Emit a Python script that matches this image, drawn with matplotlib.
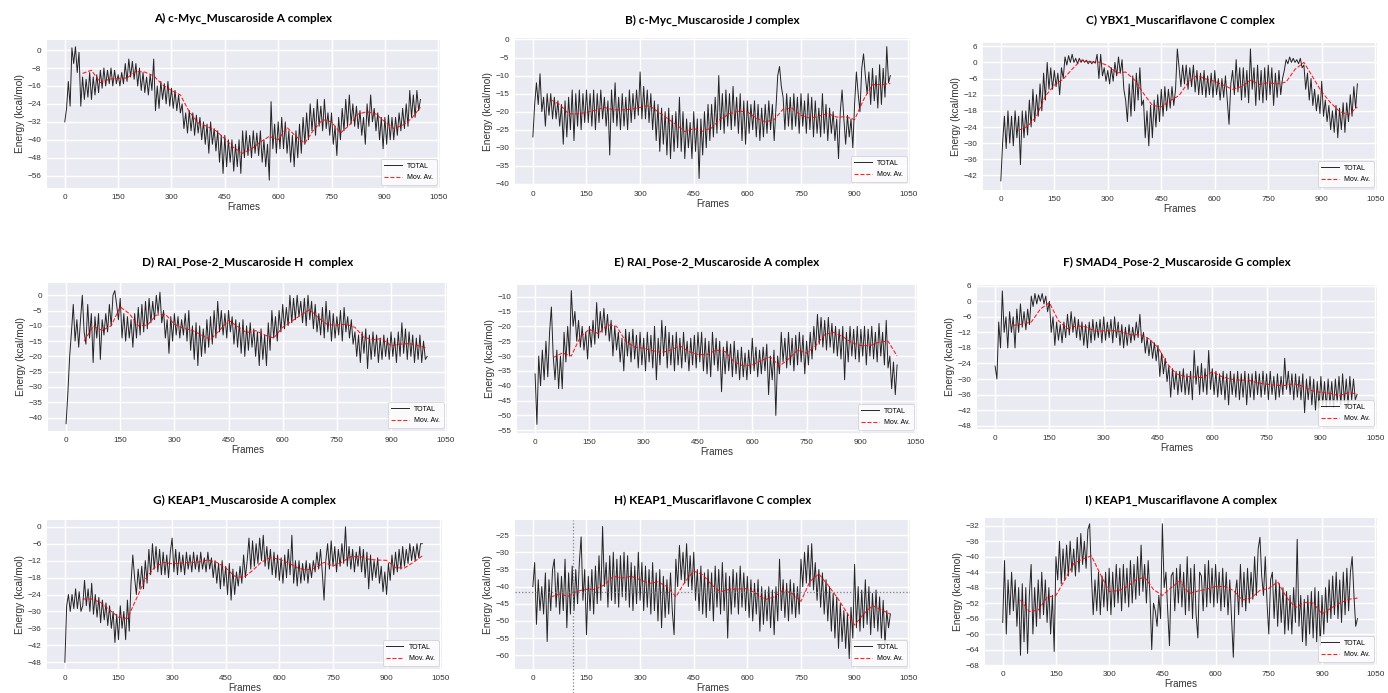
import numpy as np
import matplotlib.pyplot as plt

# TOTAL energies read every 5 frames, moving average every 25 frames from frame 50
frames = np.arange(0, 1001, 5)
ma_frames = np.arange(50, 1001, 25)

total_a = [-32, -26, -14, -25, 1, -6, 1.5, -10, -1, -25, -12, -22, -13, -21, -10, -22, -12, -20, -11, -19,
           -9, -17, -8, -16, -9, -15, -8, -16, -9, -15, -11, -16, -10, -15, -6, -14, -4, -12, -5, -13,
           -6, -16, -8, -18, -10, -19, -12, -20, -11, -18, -4, -27, -16, -26, -14, -22, -15, -24, -14, -25,
           -17, -26, -18, -27, -20, -28, -24, -35, -28, -37, -27, -36, -28, -38, -29, -37, -30, -40, -32, -42,
           -33, -46, -32, -42, -35, -45, -36, -50, -38, -55, -38, -52, -40, -50, -40, -54, -42, -52, -40, -55,
           -36, -48, -36, -47, -38, -48, -36, -46, -37, -47, -36, -50, -40, -52, -42, -58, -23, -44, -33, -46,
           -32, -44, -30, -44, -32, -46, -36, -50, -38, -52, -36, -48, -33, -46, -30, -42, -28, -40, -24, -36,
           -26, -38, -22, -34, -25, -36, -22, -35, -28, -38, -28, -42, -34, -47, -30, -40, -26, -36, -22, -34,
           -20, -33, -24, -34, -25, -35, -27, -38, -30, -42, -24, -34, -20, -32, -26, -36, -28, -40, -30, -44,
           -30, -42, -29, -40, -30, -40, -30, -38, -28, -36, -26, -35, -24, -34, -18, -30, -20, -30, -18, -27,
           -22]
mov_a = [-10.4, -9, -14.5, -13, -12.6, -12.4, -9.5, -9.8, -11.5, -15.5, -18, -20, -27.5, -32.5, -34, -36,
         -39.5, -43.5, -46, -44, -41, -38.5, -40, -34.5, -38.5, -41.5, -35.5, -31, -32, -37, -33.5, -28.5,
         -27.5, -28.5, -32, -35, -33.5, -30.5, -25.5]

total_b = [-27, -18, -12, -18, -9.5, -20, -16, -24, -15, -21, -15, -22, -16, -22, -17, -24, -18, -29, -17, -27,
           -16, -25, -14, -28, -15, -24, -14, -25, -15, -23, -14, -23, -15, -24, -14, -25, -15, -23, -14, -22,
           -16, -24, -17, -32, -14, -23, -12, -24, -16, -25, -15, -24, -16, -25, -14, -23, -15, -22, -14, -21,
           -9, -22, -13, -22, -14, -23, -15, -25, -17, -28, -18, -31, -19, -29, -20, -32, -19, -33, -21, -31,
           -20, -30, -16, -31, -20, -33, -22, -30, -23, -33, -20, -31, -22, -38.5, -22, -32, -20, -30, -18, -28,
           -18, -27, -16, -26, -10, -25, -15, -26, -14, -24, -15, -25, -13, -24, -16, -26, -15, -28, -17, -29,
           -17, -26, -18, -25, -17, -27, -18, -28, -19, -27, -18, -26, -17, -25, -18, -28, -19, -10, -7.5, -13,
           -16, -25, -15, -24, -16, -25, -15, -24, -16, -26, -15, -24, -17, -26, -15, -25, -16, -27, -17, -26,
           -19, -27, -15, -26, -18, -28, -19, -26, -20, -28, -22, -33, -20, -14, -22, -29, -21, -27, -22, -30,
           -18, -9, -15, -20, -8, -4, -10, -15, -9, -18, -8, -17, -10, -19, -7, -18, -8, -16, -2, -12,
           -10]
mov_b = [-16.7, -18, -20.6, -20.6, -20.2, -19.6, -18.8, -19.5, -19.5, -19.3, -18.8, -18.3, -20, -21.8, -23.5,
         -25.5, -24.7, -25.4, -24.5, -22, -20.6, -19.9, -20, -21.8, -22.8, -22.2, -19.3, -19, -21, -21.8, -21.3,
         -20.5, -21.5, -21.4, -22.2, -16.7, -12.5, -12.5, -12.2]

total_c = [-44, -30, -20, -32, -18, -30, -20, -31, -18, -28, -20, -38, -18, -28, -18, -27, -14, -24, -10, -22,
           -12, -20, -8, -18, -4, -14, 0, -10, -2, -10, -3, -9, -4, -12, -2, -6, 2, -1, 2.5, 0,
           3, 0, 1.5, -0.5, 1.5, 0, 1, 0, 0.8, -0.5, 0.5, -0.5, 0.3, -0.3, 3, -6, 3, -5, -2, -7,
           -3, -8, -2, -7, 0, -5, 2, -4, 1, -10, -14, -22, -8, -20, -5, -18, -4, -14, -2, -16,
           -14, -28, -18, -31, -16, -28, -14, -24, -12, -22, -10, -20, -9, -18, -10, -17, -9, -16, -10, 5,
           -2, -9, -1, -8, -1, -10, -2, -9, -1, -11, -3, -12, -4, -12, -3, -13, -5, -12, -4, -13,
           -3, -12, -6, -14, -6, -13, -5, -14, -23, -8, -3, -12, 1, -11, -2, -14, -2, -13, -3, -15,
           5, -10, -2, -16, -1, -14, -3, -15, -2, -14, -1, -12, -2, -16, -4, -13, -3, -12, -6, -3,
           1, -0.5, 2, 0, 1.5, 0, 1, -0.5, 1.5, -2, -1, -10, -4, -14, -6, -16, -10, -18, -12, -19,
           -7, -20, -14, -22, -16, -25, -18, -26, -16, -28, -17, -25, -15, -26, -15, -22, -12, -20, -9, -17,
           -8]
mov_c = [-25.2, -23.8, -20, -12.5, -8.5, -6.2, -2.5, 0.8, 0.2, 0.1, -1.2, -3.9, -3.6, -6.5, -11.5, -16,
         -16.5, -14.2, -12.3, -7.5, -4.8, -6.2, -7, -8.5, -10, -9, -6.6, -8.2, -7.5, -8, -7.3, -2.6, 0,
         -5.5, -11, -15, -18.2, -19.5, -16.5]

total_d = [-42, -32, -20, -12, -3, -15, -8, -17, -8, 0, -12, -16, -3, -14, -6, -22, -7, -14, -6, -21,
           -8, -13, -6, -12, -3, -10, 0, 1.5, -3, -8, -1, -14, -6, -15, -7, -14, -8, -17, -6, -14,
           -4, -13, -3, -12, -2, -11, -1, -9, -2, -8, 0, -6, 1, -9, -5, -14, -8, -19, -7, -15,
           -6, -13, -7, -14, -8, -13, -6, -15, -5, -18, -10, -21, -9, -23, -10, -20, -11, -19, -8, -17,
           -7, -16, -5, -14, -2, -12, -5, -13, -6, -14, -5, -12, -7, -16, -8, -17, -9, -19, -8, -20,
           -10, -18, -9, -17, -11, -20, -12, -23, -11, -21, -13, -23, -9, -18, -5, -14, -7, -15, -5, -12,
           -3, -11, -4, -10, 0, -9, -1, -8, 0, -7, -2, -9, -1, -10, 0, -8, -2, -11, -3, -12,
           -6, -13, -4, -14, -2, -12, -5, -15, -6, -14, -7, -13, -5, -15, -4, -12, -7, -14, -8, -16,
           -12, -20, -13, -22, -12, -19, -11, -24, -13, -21, -12, -20, -13, -22, -14, -21, -13, -20, -14, -21,
           -12, -20, -14, -22, -12, -20, -9, -19, -11, -21, -12, -20, -13, -22, -14, -21, -13, -22, -15, -21,
           -20]
mov_d = [-15, -10.2, -11.5, -10, -3.8, -6, -10, -9.8, -6.5, -6.2, -9.5, -10.8, -11.5, -13, -14.5, -11.5,
         -8.2, -10.2, -12.2, -11.6, -13, -14, -10.5, -8.5, -6.5, -4.7, -7.5, -9.7, -9.7, -9.5, -10.5, -13.8,
         -14.5, -14.2, -16.5, -16, -15.8, -16.5, -17.3]

total_e = [-36, -53, -30, -40, -28, -38, -25, -37, -22, -13.5, -30, -38, -28, -41, -30, -41, -22, -32, -20, -30,
           -8, -20, -15, -25, -18, -27, -20, -28, -22, -31, -20, -27, -18, -26, -12, -24, -15, -22, -14, -23,
           -16, -25, -18, -30, -20, -28, -22, -32, -24, -35, -21, -30, -22, -32, -21, -31, -23, -34, -22, -33,
           -24, -35, -22, -32, -23, -34, -20, -38, -24, -33, -18, -30, -20, -34, -22, -33, -23, -35, -22, -33,
           -24, -34, -22, -32, -25, -35, -24, -33, -23, -34, -22, -32, -22, -35, -24, -36, -25, -37, -22, -33,
           -24, -35, -25, -42, -27, -36, -25, -35, -26, -37, -25, -36, -28, -38, -27, -37, -29, -38, -28, -36,
           -24, -35, -27, -37, -28, -36, -27, -35, -26, -43, -30, -38, -28, -50, -30, -36, -22, -32, -24, -34,
           -22, -33, -24, -35, -23, -33, -22, -32, -23, -36, -25, -33, -22, -31, -20, -28, -16, -26, -17, -27,
           -18, -28, -17, -27, -19, -29, -20, -30, -21, -31, -20, -38, -22, -32, -20, -30, -21, -31, -20, -32,
           -21, -30, -20, -33, -21, -30, -20, -31, -22, -32, -19, -30, -22, -33, -18, -34, -30, -41, -32, -43,
           -33]
mov_e = [-30.5, -29, -30, -23.5, -21, -22.5, -19.5, -20, -25, -27, -27.4, -28.2, -28.8, -28, -26.5, -28.5,
         -29.5, -29.5, -28, -28.5, -32, -33.3, -33, -31.5, -30.3, -33.4, -31, -28, -29, -26.5, -22.8, -22,
         -23.5, -25.5, -26.5, -26.5, -25.3, -25, -30]

total_f = [-25, -30, -8, -18, 4, -12, -6, -18, -4, -12, -6, -18, -3, -12, -1, -10, -4, -11, -3, -9,
           2, -2, 3, -1, 2.5, 0, 3, -1, 2, -4, 0, -12, -6, -17, -8, -15, -9, -16, -8, -14,
           -5, -13, -4, -12, -6, -14, -7, -15, -8, -17, -9, -18, -8, -16, -7, -15, -8, -14, -7, -16,
           -6, -15, -8, -14, -7, -16, -6, -14, -8, -17, -9, -18, -10, -17, -9, -16, -10, -15, -8, -14,
           -5, -16, -12, -20, -14, -21, -15, -22, -16, -23, -17, -29, -20, -28, -22, -31, -25, -37, -26, -34,
           -27, -36, -27, -35, -26, -36, -28, -36, -27, -38, -19, -32, -25, -36, -24, -35, -26, -36, -19, -34,
           -26, -36, -27, -37, -28, -36, -27, -38, -28, -40, -27, -36, -28, -37, -27, -38, -28, -37, -27, -40,
           -28, -37, -28, -38, -27, -36, -28, -37, -27, -36, -28, -38, -27, -36, -29, -38, -28, -37, -29, -36,
           -22, -34, -27, -36, -28, -38, -28, -37, -29, -38, -28, -43, -30, -38, -29, -40, -30, -42, -31, -41,
           -29, -40, -31, -41, -30, -40, -31, -41, -30, -39, -29, -40, -28, -39, -30, -40, -29, -38, -30, -38,
           -36]
mov_f = [-9.3, -8.8, -8, -3, -0.5, -7.5, -10.6, -9.5, -9.8, -11.5, -11.4, -11.3, -11.8, -13, -12.8, -14.5,
         -17.8, -24, -28, -29, -29.2, -29.5, -27.2, -29, -30.1, -30.4, -30.4, -31.5, -32, -32.4, -32.5, -31.8,
         -32.8, -34.5, -35.2, -35.5, -36.5, -35.3, -35.7]

total_g = [-48, -28, -24, -30, -24, -29, -22, -29, -23, -30, -28, -19, -28, -22, -30, -20, -31, -24, -32, -25,
           -34, -26, -33, -27, -35, -28, -36, -30, -41, -31, -40, -28, -36, -30, -40, -26, -37, -20, -10, -18,
           -24, -15, -22, -14, -22, -12, -20, -8, -17, -6, -15, -7, -16, -8, -17, -9, -17, -10, -18, -9,
           -4, -16, -8, -17, -9, -16, -10, -17, -9, -15, -10, -16, -9, -15, -10, -16, -9, -15, -11, -16,
           -9, -15, -11, -18, -12, -20, -13, -22, -12, -21, -14, -24, -13, -26, -15, -24, -16, -21, -14, -20,
           -10, -18, -12, -4, -15, -5, -14, -6, -13, -4, -12, -3, -14, -7, -15, -8, -17, -9, -18, -10,
           -19, -11, -20, -10, -18, -8, -17, -3, -20, -12, -21, -12, -20, -13, -19, -12, -20, -13, -18, -12,
           -16, -9, -15, -8, -16, -26, -12, -6, -15, -5, -14, -7, -16, -8, -14, -6, -13, 0, -14, -7,
           -15, -8, -16, -9, -14, -7, -16, -8, -18, -9, -22, -10, -19, -12, -18, -11, -20, -14, -23, -16,
           -24, -13, -19, -10, -17, -9, -16, -8, -15, -7, -14, -8, -13, -6, -12, -7, -12, -6, -11, -6,
           -6]
mov_g = [-25.6, -25.6, -26.8, -29.5, -32, -32.5, -25.5, -18.5, -14.5, -12.6, -13.1, -12.9, -12.6, -12.5,
         -11.8, -12.6, -14.6, -17.5, -18, -15.5, -12.5, -10.9, -11.5, -12.8, -14.5, -15.3, -14.7, -12.6,
         -13.9, -12.5, -10.6, -10.5, -11.5, -11.8, -11.9, -14.5, -14.6, -12.6, -10.3]

total_h = [-40, -33, -51, -38, -47, -40, -48, -36, -56, -38, -47, -35, -32, -46, -36, -48, -37, -47, -32, -52,
           -36, -48, -34, -47, -35, -45, -33, -25.5, -44, -35, -54, -37, -47, -35, -48, -34, -45, -31, -44, -22.5,
           -40, -33, -46, -31, -44, -30, -45, -32, -46, -31, -43, -30, -44, -31, -46, -33, -47, -34, -45, -30,
           -44, -33, -47, -34, -46, -35, -48, -33, -47, -36, -50, -35, -52, -37, -49, -38, -48, -36, -47, -54,
           -32, -40, -28, -38, -30, -39, -27.5, -40, -31, -41, -30, -44, -35, -47, -34, -48, -36, -49, -35, -47,
           -36, -50, -34, -46, -35, -48, -33, -47, -36, -55, -37, -48, -35, -46, -36, -48, -34, -46, -36, -47,
           -37, -49, -38, -50, -39, -48, -38, -53, -40, -51, -41, -50, -40, -52, -41, -54, -40, -50, -32, -47,
           -38, -49, -39, -50, -38, -48, -39, -49, -40, -48, -32, -40, -30, -39, -28, -40, -27.5, -41, -33, -44,
           -35, -46, -36, -48, -38, -50, -40, -53, -42, -55, -43, -58, -45, -56, -47, -58, -48, -61, -46, -55,
           -33.5, -52, -40, -53, -41, -52, -38, -51, -40, -54, -42, -52, -41, -53, -43, -55, -44, -57, -47, -52,
           -48]
mov_h = [-43, -42.2, -42.8, -41.3, -40.8, -40.8, -39.5, -37, -37.5, -37, -38, -39.1, -38.6, -40, -43, -38.7,
         -35.5, -36.5, -39.5, -41.5, -40.8, -40.7, -40.6, -42, -43.8, -43, -41, -42, -44.3, -38.5, -36.3,
         -39.5, -43, -47, -51.2, -48, -45.5, -46.8, -48]

total_i = [-57, -41, -60, -46, -55, -44, -54, -46, -58, -48, -65.5, -47, -62, -48, -65, -50, -42, -60, -48, -58,
           -46, -56, -44, -55, -46, -57, -48, -60, -50, -64.5, -40, -46, -36, -47, -38, -46, -37, -45, -36, -44,
           -38, -45, -35, -44, -34, -42, -36, -43, -33, -31.5, -45, -55, -46, -54, -44, -55, -45, -53, -44, -54,
           -43, -55, -44, -53, -42, -52, -43, -54, -42, -52, -43, -53, -41, -52, -42, -51, -40, -50, -37, -49,
           -42, -52, -41, -50, -64, -52, -54, -58, -50, -56, -31.5, -48, -44, -54, -63, -45, -44, -54, -43, -52,
           -42, -53, -44, -55, -40, -54, -43, -56, -42, -55, -61, -44, -45, -54, -42, -53, -41, -52, -43, -53,
           -42, -52, -44, -54, -43, -53, -44, -55, -46, -56, -66, -50, -46, -55, -42, -53, -44, -54, -43, -52,
           -44, -51, -40, -50, -38, -35, -45, -50, -40, -52, -60, -46, -44, -56, -46, -58, -47, -57, -48, -60,
           -49, -59, -50, -60, -48, -57, -35.5, -58, -50, -62, -51, -63, -50, -60, -49, -61, -48, -62, -49, -63,
           -50, -60, -48, -57, -46, -56, -45, -55, -44, -56, -46, -57, -44, -55, -43, -54, -44, -40, -50, -58,
           -56]
mov_i = [-51.2, -54.2, -53.8, -50.5, -50, -46, -41.8, -40.6, -39.8, -44.5, -49, -48.8, -47.8, -46, -45.3,
         -48.5, -50, -48, -46.2, -49.5, -48.9, -48.4, -47.7, -47.7, -48.7, -51.2, -50.7, -48.7, -48.2, -46.5,
         -50.5, -53.2, -51.8, -52, -54.8, -53.3, -52, -51, -50.7]

titles = ["A) c-Myc_Muscaroside A complex", "B) c-Myc_Muscaroside J complex",
          "C) YBX1_Muscariflavone C complex", "D) RAI_Pose-2_Muscaroside H  complex",
          "E) RAI_Pose-2_Muscaroside A complex", "F) SMAD4_Pose-2_Muscaroside G complex",
          "G) KEAP1_Muscaroside A complex", "H) KEAP1_Muscariflavone C complex",
          "I) KEAP1_Muscariflavone A complex"]
totals = [total_a, total_b, total_c, total_d, total_e, total_f, total_g, total_h, total_i]
movs = [mov_a, mov_b, mov_c, mov_d, mov_e, mov_f, mov_g, mov_h, mov_i]
yticks = [np.arange(0, -57, -8), np.arange(0, -41, -5), np.arange(6, -43, -6),
          np.arange(0, -41, -5), np.arange(-10, -56, -5), np.arange(6, -49, -6),
          np.arange(0, -49, -6), np.arange(-25, -61, -5), np.arange(-32, -69, -4)]
ylims = [(-61.5, 4.5), (-40.3, 0.4), (-47.4, 7.2), (-44.4, 4), (-55.9, -6.1), (-49.3, 6.3),
         (-50.4, 2.4), (-64, -20.6), (-68, -30)]

# axes boxes in pixels: left, top, right, bottom
W, H = 1388, 693
boxes = [(47, 40, 440, 188), (515, 38, 910, 185), (983, 43, 1377, 190),
         (48, 283, 447, 431), (517, 285, 917, 433), (977, 285, 1377, 429),
         (47, 520, 442, 669), (515, 520, 910, 669), (985, 518, 1377, 665)]
title_y = [18, 20, 20, 262, 262, 262, 500, 500, 500]

plt.rcParams['font.family'] = ['Liberation Sans', 'DejaVu Sans']
fig = plt.figure(figsize=(W / 100, H / 100), dpi=100)

for k in range(9):
    l, t, r, b = boxes[k]
    ax = fig.add_axes([l / W, 1 - b / H, (r - l) / W, (b - t) / H])
    ax.set_facecolor('#EAEAF2')
    ax.grid(True, color='white', lw=1.0)
    ax.set_axisbelow(True)
    for s in ax.spines.values():
        s.set_visible(False)
    ax.plot(frames, totals[k], color='black', lw=0.7, alpha=0.85, label='TOTAL')
    ax.plot(ma_frames, movs[k], color='red', ls='--', lw=0.8, alpha=0.85, label='Mov. Av.')
    if k == 7:
        # cursor cross-hair left in the original screenshot
        ax.axvline(113, ymin=-0.16, ymax=1, color='gray', ls=':', lw=0.9, clip_on=False)
        ax.axhline(-41.5, color='gray', ls=':', lw=0.9)
    ax.set_xlim(-50, 1055)
    ax.set_ylim(*ylims[k])
    ax.set_xticks(np.arange(0, 1051, 150))
    ax.set_yticks(yticks[k])
    ax.tick_params(length=0, labelsize=5.9, labelcolor='#333333', pad=4)
    ax.set_xlabel('Frames', fontsize=7, color='#333333', labelpad=1)
    ax.set_ylabel('Energy (kcal/mol)', fontsize=7.3, color='#333333', labelpad=2)
    leg = ax.legend(loc='lower right', fontsize=5, frameon=True, handlelength=2.5,
                    borderpad=0.5, labelspacing=0.6)
    leg.get_frame().set_facecolor('white')
    leg.get_frame().set_edgecolor('#cccccc')
    leg.get_frame().set_linewidth(0.6)
    fig.text((l + r) / 2 / W, 1 - title_y[k] / H, titles[k], ha='center', va='center',
             fontsize=8.5, fontweight='bold', family=['Lato', 'DejaVu Sans'])

fig.savefig('out.png', dpi=100)
